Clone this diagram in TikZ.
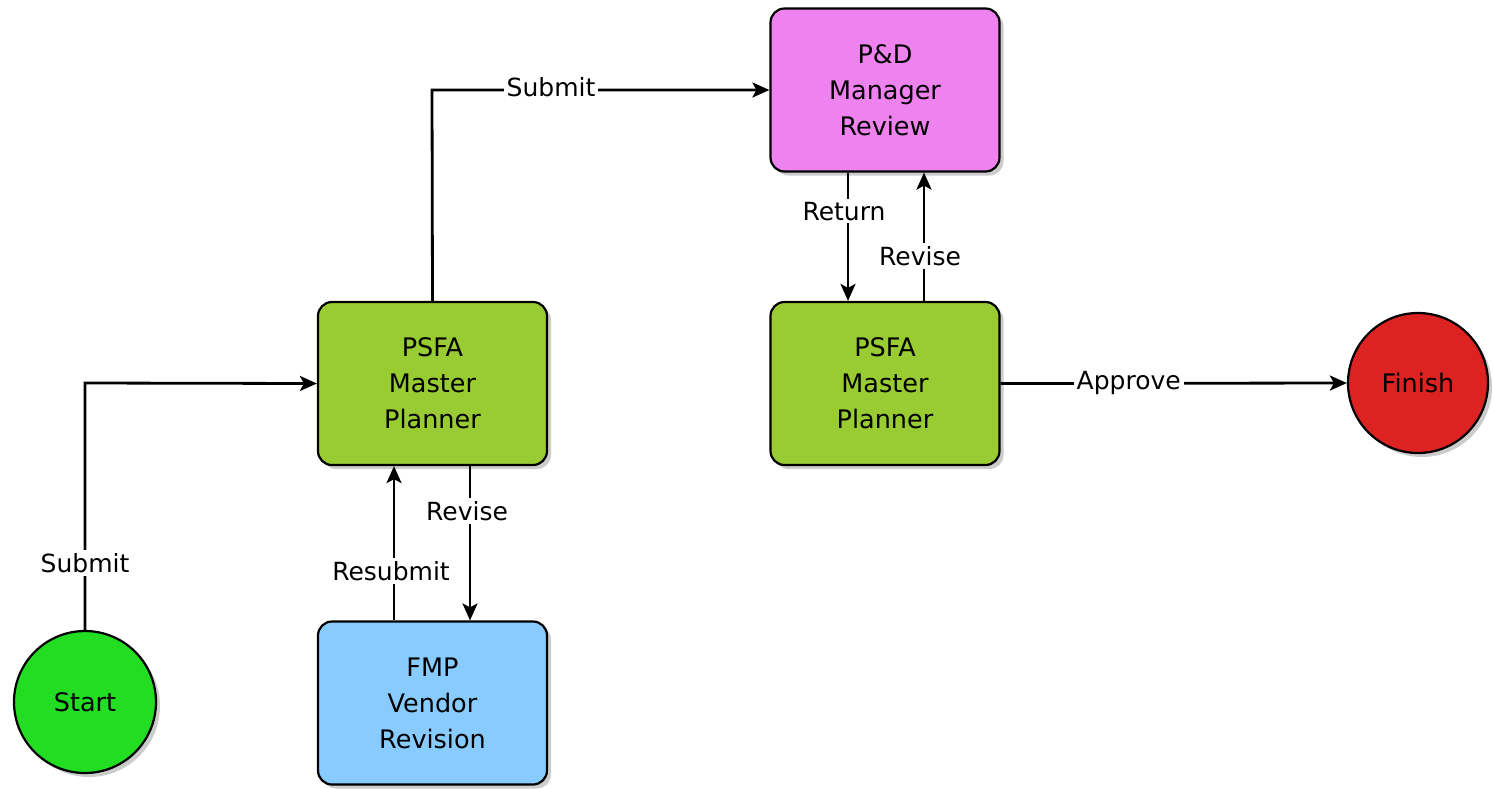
\documentclass[tikz,border=0pt]{standalone}
\usepackage{fontspec}
\setmainfont{DejaVu Sans}
\usetikzlibrary{arrows.meta,shadows}
\definecolor{startgreen}{HTML}{22DD22}
\definecolor{finishred}{HTML}{DD2222}
\definecolor{psfagreen}{HTML}{99CC33}
\definecolor{fmpblue}{HTML}{88CCFF}
\definecolor{pdviolet}{HTML}{EE82EE}
\tikzset{
  box/.style={draw=black, line width=2.2pt, rounded corners=14pt, minimum width=229pt, minimum height=163pt,
    align=center, font=\fontsize{25.5pt}{36pt}\selectfont,
    drop shadow={shadow xshift=4pt, shadow yshift=-4pt, fill=black!40}},
  term/.style={draw=black, line width=2.2pt, circle, minimum size=142pt, inner sep=0pt,
    font=\fontsize{25.5pt}{36pt}\selectfont,
    drop shadow={shadow xshift=4pt, shadow yshift=-4pt, fill=black!40}},
  conn/.style={line width=2.8pt, -{Stealth[length=17pt,width=15pt,inset=4pt]}},
  lbl/.style={fill=white, inner sep=3pt, font=\fontsize{25pt}{28pt}\selectfont}
}
\begin{document}
\begin{tikzpicture}[x=1pt,y=-1pt]
\useasboundingbox (0,0) rectangle (1493,788);
\node[term, fill=startgreen] (start) at (85,702) {Start};
\node[term, fill=finishred, minimum size=140pt] (finish) at (1418,383) {Finish};
\node[box, fill=psfagreen] (psfa1) at (432.5,383.5) {PSFA\\Master\\Planner};
\node[box, fill=fmpblue] (fmp) at (432.5,703) {FMP\\Vendor\\Revision};
\node[box, fill=pdviolet] (pd) at (885,90) {P\&D\\Manager\\Review};
\node[box, fill=psfagreen] (psfa2) at (885,383.5) {PSFA\\Master\\Planner};
% Start -> PSFA1
\coordinate (c1) at (85,383);
\draw[conn] (start.north) -- (c1) -- (psfa1.west);
\node[lbl] (l1) at (85,563) {Submit};
% PSFA1 -> P&D
\coordinate (c2) at (432,90);
\draw[conn] (psfa1.north) -- (c2) -- (pd.west);
\node[lbl] (l2) at (551,87) {Submit};
% P&D -> PSFA2 (Return)
\draw[conn] ([xshift=-37pt]pd.south) -- ([xshift=-37pt]psfa2.north) node[lbl, pos=0.3, xshift=-4pt] (l3) {Return};
% PSFA2 -> P&D (Revise)
\draw[conn] ([xshift=39pt]psfa2.north) -- ([xshift=39pt]pd.south) node[lbl, pos=0.35, xshift=-4pt] (l4) {Revise};
% PSFA2 -> Finish
\draw[conn] (psfa2.east) -- (finish.west) node[lbl, pos=0.37] (l5) {Approve};
% PSFA1 -> FMP (Revise)
\draw[conn] ([xshift=37.5pt]psfa1.south) -- ([xshift=37.5pt]fmp.north) node[lbl, pos=0.29, xshift=-3pt] (l6) {Revise};
% FMP -> PSFA1 (Resubmit)
\draw[conn] ([xshift=-38.5pt]fmp.north) -- ([xshift=-38.5pt]psfa1.south) node[lbl, pos=0.32, xshift=-3pt] (l7) {Resubmit};
\end{tikzpicture}
\end{document}
